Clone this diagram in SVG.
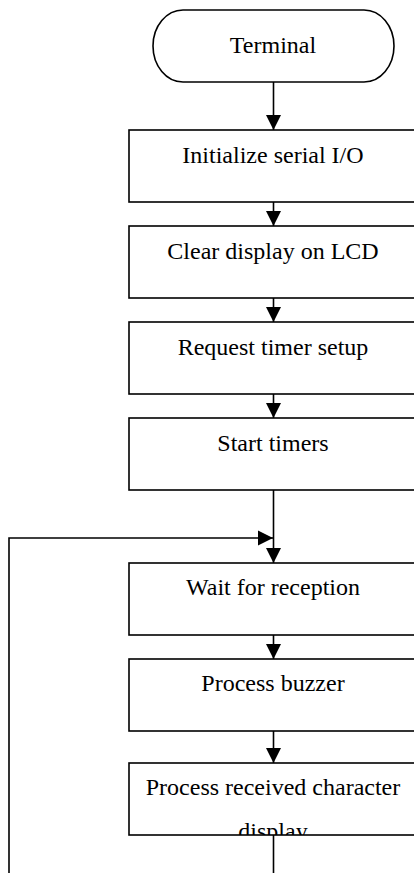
<svg xmlns="http://www.w3.org/2000/svg" width="414" height="873" viewBox="0 0 414 873">
<style>
.box{fill:#fff;stroke:#000;stroke-width:1.6}
.lbl{font-family:"Liberation Serif","Times New Roman",serif;font-size:24px;fill:#000;text-anchor:middle}
.con{fill:none;stroke:#000;stroke-width:1.6}
</style>
<defs>
<marker id="ah" markerUnits="userSpaceOnUse" markerWidth="16" markerHeight="16" viewBox="0 0 16 16" refX="15" refY="8" orient="auto">
<path d="M0,0.5 L15,8 L0,15.5 Z" fill="#000"/>
</marker>
<clipPath id="c7"><rect x="129" y="763" width="300" height="72"/></clipPath>
</defs>
<g id="terminal">
<rect class="box" x="153" y="10" width="241" height="72" rx="30" ry="36"/>
<text class="lbl" x="273" y="53">Terminal</text>
</g>
<g id="init">
<rect class="box" x="129" y="130" width="300" height="72"/>
<text class="lbl" x="273" y="163">Initialize serial I/O</text>
</g>
<g id="clear">
<rect class="box" x="129" y="226" width="300" height="72"/>
<text class="lbl" x="273" y="259">Clear display on LCD</text>
</g>
<g id="request">
<rect class="box" x="129" y="322" width="300" height="72"/>
<text class="lbl" x="273" y="355">Request timer setup</text>
</g>
<g id="start">
<rect class="box" x="129" y="418" width="300" height="72"/>
<text class="lbl" x="273" y="451">Start timers</text>
</g>
<g id="wait">
<rect class="box" x="129" y="563" width="300" height="72"/>
<text class="lbl" x="273" y="595">Wait for reception</text>
</g>
<g id="buzzer">
<rect class="box" x="129" y="659" width="300" height="72"/>
<text class="lbl" x="273" y="691">Process buzzer</text>
</g>
<g id="process">
<rect class="box" x="129" y="763" width="300" height="72"/>
<text class="lbl" x="273" y="795" clip-path="url(#c7)">Process received character<tspan x="273" dy="44">display</tspan></text>
</g>
<g id="connectors">
<path class="con" d="M273.5,82 V130" marker-end="url(#ah)"/>
<path class="con" d="M273.5,202 V226" marker-end="url(#ah)"/>
<path class="con" d="M273.5,298 V322" marker-end="url(#ah)"/>
<path class="con" d="M273.5,394 V418" marker-end="url(#ah)"/>
<path class="con" d="M273.5,490 V563" marker-end="url(#ah)"/>
<path class="con" d="M9,873 V538 H273" marker-end="url(#ah)"/>
<path class="con" d="M273.5,635 V659" marker-end="url(#ah)"/>
<path class="con" d="M273.5,731 V763" marker-end="url(#ah)"/>
<path class="con" d="M273.5,835 V873"/>
</g>
</svg>
